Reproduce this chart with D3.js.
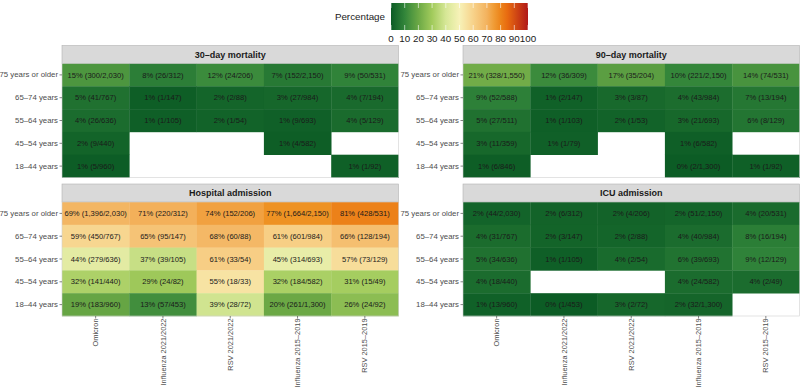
<!DOCTYPE html>
<html><head><meta charset="utf-8">
<script src="https://cdn.jsdelivr.net/npm/d3@7"></script>
<style>body{margin:0;background:#fff;}svg{display:block;font-family:"Liberation Sans",Arial,sans-serif;}</style>
</head><body><svg id="c" width="800" height="391"></svg>
<script>
const groups = ["Omicron","Influenza 2021/2022","RSV 2021/2022","Influenza 2015–2019","RSV 2015–2019"];
const ages = ["75 years or older","65–74 years","55–64 years","45–54 years","18–44 years"];
const outcomes = ["30–day mortality","90–day mortality","Hospital admission","ICU admission"];
const legendTicks = [0,10,20,30,40,50,60,70,80,90,100];

// numerators / denominators per outcome: rows = ages, cols = groups (null = no data)
const mort30Num = [[300,26,24,152,50],[41,1,2,27,7],[26,1,1,9,5],[9,null,null,4,null],[5,null,null,null,1]];
const mort30Den = [[2030,312,206,2150,531],[767,147,88,984,194],[636,105,54,693,129],[440,null,null,582,null],[960,null,null,null,92]];
const mort90Num = [[328,36,35,221,74],[52,2,3,43,13],[27,1,1,21,8],[11,1,null,6,null],[6,null,null,2,1]];
const mort90Den = [[1550,309,204,2150,531],[588,147,87,984,194],[511,103,53,693,129],[359,79,null,582,null],[846,null,null,1300,92]];
const hospNum = [[1396,220,152,1664,428],[450,95,60,601,128],[279,39,33,314,73],[141,24,18,184,15],[183,57,28,261,24]];
const hospDen = [[2030,312,206,2150,531],[767,147,88,984,194],[636,105,54,693,129],[440,82,33,582,49],[960,453,72,1300,92]];
const icuNum = [[44,6,4,51,20],[31,3,2,40,16],[34,1,2,39,12],[18,null,null,24,2],[13,1,2,32,null]];
const icuDen = [[2030,312,206,2150,531],[767,147,88,984,194],[636,105,54,693,129],[440,null,null,582,49],[960,453,72,1300,null]];

const numArr = [mort30Num, mort90Num, hospNum, icuNum];
const denArr = [mort30Den, mort90Den, hospDen, icuDen];

const svg = d3.select("#c");
const color = d3.scaleLinear()
  .domain([0,10,20,30,40,50,60,70,78,85,100])
  .range(["#0b5b25","#32853a","#6ba845","#a2cb5c","#d6e796","#f7f2b8","#f7d28a","#f3b25e","#ee8f1e","#e86a10","#b01818"])
  .interpolate(d3.interpolateRgb);

const fmt = d3.format(",");
const panelX = [62, 463];
const panelW = 336.5;
const stripH = 18;
const panelH = 114;
const stripY = [45.5, 184];

outcomes.forEach((name, k) => {
  const col = k % 2, row = Math.floor(k / 2);
  const x0 = panelX[col], sy = stripY[row], y0 = sy + stripH;
  const x = d3.scaleBand().domain(groups).range([x0, x0 + panelW]);
  const y = d3.scaleBand().domain(ages).range([y0, y0 + panelH]);
  const g = svg.append("g");
  // strip
  g.append("rect").attr("x", x0).attr("y", sy).attr("width", panelW).attr("height", stripH)
    .attr("fill", "#d9d9d9").attr("stroke", "#b3b3b3").attr("stroke-width", 0.6);
  g.append("text").attr("x", x0 + panelW / 2).attr("y", sy + stripH / 2).attr("dy", "0.35em")
    .attr("text-anchor", "middle").attr("font-weight", "bold").attr("font-size", 9).attr("fill", "#1a1a1a").text(name);
  // cells
  const cells = [];
  ages.forEach((a, i) => groups.forEach((gr, j) => {
    const n = numArr[k][i][j], d = denArr[k][i][j];
    if (n == null) return;
    cells.push({a, gr, n, d, p: n / d * 100});
  }));
  g.selectAll("rect.cell").data(cells).join("rect").attr("class", "cell")
    .attr("x", d => x(d.gr)).attr("y", d => y(d.a))
    .attr("width", x.bandwidth() + 0.3).attr("height", y.bandwidth() + 0.3)
    .attr("fill", d => color(d.p));
  g.selectAll("text.lab").data(cells).join("text").attr("class", "lab")
    .attr("x", d => x(d.gr) + x.bandwidth() / 2).attr("y", d => y(d.a) + y.bandwidth() / 2)
    .attr("dy", "0.35em").attr("text-anchor", "middle").attr("font-size", 7.6).attr("fill", "#1a1a1a")
    .text(d => `${Math.round(d.p)}% (${fmt(d.n)}/${fmt(d.d)})`);
  // panel border
  g.append("rect").attr("x", x0).attr("y", y0).attr("width", panelW).attr("height", panelH)
    .attr("fill", "none").attr("stroke", "#d0d0d0").attr("stroke-width", 0.6);
  // y axis
  const ya = g.append("g").attr("transform", `translate(${x0},0)`).call(d3.axisLeft(y).tickSize(2.5).tickPadding(1.5));
  ya.select(".domain").remove();
  ya.selectAll("line").attr("stroke", "#333").attr("stroke-width", 0.6);
  ya.selectAll("text").attr("font-size", 7.8).attr("fill", "#4d4d4d").attr("font-family", "Liberation Sans, Arial, sans-serif");
  // x axis for bottom row
  if (row === 1) {
    const xa = g.append("g").attr("transform", `translate(0,${y0 + panelH})`).call(d3.axisBottom(x).tickSize(2.5));
    xa.select(".domain").remove();
    xa.selectAll("line").attr("stroke", "#333").attr("stroke-width", 0.6);
    xa.selectAll("text").attr("font-size", 7.4).attr("fill", "#4d4d4d").attr("font-family", "Liberation Sans, Arial, sans-serif")
      .attr("text-anchor", "end").attr("transform", "rotate(-90)").attr("x", -2.5).attr("y", 0).attr("dy", "0.35em");
  }
});

// legend
const lx0 = 391, lx1 = 528, ly0 = 3, ly1 = 30;
const defs = svg.append("defs");
const grad = defs.append("linearGradient").attr("id", "lg");
d3.range(0, 101, 5).forEach(v => grad.append("stop").attr("offset", v + "%").attr("stop-color", color(v)));
svg.append("rect").attr("x", lx0).attr("y", ly0).attr("width", lx1 - lx0).attr("height", ly1 - ly0).attr("fill", "url(#lg)");
const lscale = d3.scaleLinear().domain([0, 100]).range([lx0, lx1]);
legendTicks.forEach(v => {
  svg.append("line").attr("x1", lscale(v)).attr("x2", lscale(v)).attr("y1", ly0).attr("y2", ly0 + 5).attr("stroke", "#fff").attr("stroke-width", 0.6);
  svg.append("line").attr("x1", lscale(v)).attr("x2", lscale(v)).attr("y1", ly1 - 5).attr("y2", ly1).attr("stroke", "#fff").attr("stroke-width", 0.6);
});
svg.selectAll("text.lt").data(legendTicks).join("text").attr("class", "lt")
  .attr("x", d => lscale(d)).attr("y", 38.5).attr("dy", "0.35em").attr("text-anchor", "middle")
  .attr("font-size", 9.8).attr("fill", "#1a1a1a").text(d => d);
svg.append("text").attr("x", 385).attr("y", 17).attr("dy", "0.35em").attr("text-anchor", "end")
  .attr("font-size", 9.8).attr("fill", "#1a1a1a").text("Percentage");
</script></body></html>
